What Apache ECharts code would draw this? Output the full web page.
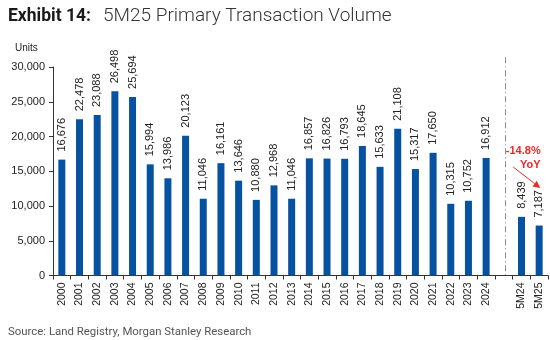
<!DOCTYPE html>
<html><head><meta charset="utf-8">
<script src="https://cdn.jsdelivr.net/npm/echarts@6/dist/echarts.min.js"></script>
<style>html,body{margin:0;padding:0;background:#fff}#c{width:550px;height:340px}</style>
</head><body><div id="c"></div>
<script>
const categories = ['2000','2001','2002','2003','2004','2005','2006','2007','2008','2009','2010','2011','2012','2013','2014','2015','2016','2017','2018','2019','2020','2021','2022','2023','2024','','5M24','5M25'];
const volumes = [16676,22478,23088,26498,25694,15994,13986,20123,11046,16161,13646,10880,12968,11046,16857,16826,16793,18645,15633,21108,15317,17650,10315,10752,16912,null,8439,7187];
const yTicks = [0,5000,10000,15000,20000,25000,30000];
const titleBold = 'Exhibit 14:';
const titleText = '5M25 Primary Transaction Volume';
const unitText = 'Units';
const sourceText = 'Source: Land Registry, Morgan Stanley Research';
const yoyText = ['-14.8%', 'YoY'];

const NARROW = '"Liberation Sans Narrow","Arial Narrow",sans-serif';
const fmt = v => v == null ? '' : Number(v).toLocaleString('en-US');

const chart = echarts.init(document.getElementById('c'), null, {renderer:'canvas'});
const option = {
  animation: false,
  backgroundColor: '#fff',
  title: [{
    left: 3, top: 2,
    text: '{b|' + titleBold + '}{n|' + titleText + '}',
    textStyle: { rich: {
      b: { fontFamily: 'Roboto', fontWeight: 'bold', fontSize: 17.5, color: '#1a1a1a', width: 95 },
      n: { fontFamily: 'Roboto', fontWeight: 300, fontSize: 19, color: '#333' }
    }}
  },{
    left: 10, top: 38, text: unitText,
    textStyle: { fontFamily: NARROW, fontSize: 10, fontWeight: 'normal', color: '#222' }
  },{
    left: 3, top: 322, text: sourceText,
    textStyle: { fontFamily: 'Roboto', fontSize: 11.4, fontWeight: 'normal', color: '#555' }
  }],
  grid: { left: 53, right: 2, top: 67, bottom: 64.5 },
  xAxis: {
    type: 'category', data: categories,
    axisLine: { lineStyle: { color: '#333', width: 1 } },
    axisTick: { show: true, length: 4, interval: 0, lineStyle: { color: '#333' } },
    axisLabel: { interval: 0, rotate: 90, margin: 7, fontFamily: NARROW, fontSize: 10.5, color: '#222' }
  },
  yAxis: {
    type: 'value', min: yTicks[0], max: yTicks[yTicks.length-1], interval: yTicks[1]-yTicks[0],
    splitLine: { show: false },
    axisLine: { show: true, lineStyle: { color: '#333', width: 1 } },
    axisTick: { show: true, length: 4, lineStyle: { color: '#333' } },
    axisLabel: { margin: 8, fontFamily: NARROW, fontSize: 11, color: '#222', formatter: fmt }
  },
  series: [{
    type: 'bar', data: volumes, barWidth: 7,
    itemStyle: { color: '#0652a0' },
    label: { show: true, position: 'top', rotate: 90, align: 'left', verticalAlign: 'middle', distance: 8,
      fontFamily: NARROW, fontSize: 11, color: '#222', formatter: p => fmt(p.value) }
  }]
};
chart.setOption(option);

// Divider and annotation placed through the axis scales
const xEnd = chart.convertToPixel({xAxisIndex:0}, '5M25');
const xMid = chart.convertToPixel({xAxisIndex:0}, 25);
const yTop = chart.convertToPixel({yAxisIndex:0}, 31400);
const yZero = chart.convertToPixel({yAxisIndex:0}, 0);
const yText = chart.convertToPixel({yAxisIndex:0}, 18900);
const yA0 = chart.convertToPixel({yAxisIndex:0}, 15600);
const yA1 = chart.convertToPixel({yAxisIndex:0}, 12600);
const xd = Math.round(xMid + 1) + 0.5;
const x0 = xMid + 9.5, x1 = xEnd + 1;
const ang = Math.atan2(yA1 - yA0, x1 - x0);
const ah = 7, aw = 3.5;
const bx = x1 - ah*Math.cos(ang), by = yA1 - ah*Math.sin(ang);
chart.setOption({
  graphic: [
    { type: 'line', shape: { x1: xd, y1: yTop, x2: xd, y2: yZero }, style: { stroke: '#8a8a8a', lineWidth: 1, lineDash: [6,3,1,3] } },
    { type: 'text', x: xEnd + 1.5, y: yText, style: { text: yoyText[0] + '\n' + yoyText[1], align: 'right', verticalAlign: 'top',
      fill: '#f02828', font: 'bold 11px ' + NARROW, lineHeight: 14 } },
    { type: 'line', shape: { x1: x0, y1: yA0, x2: bx, y2: by }, style: { stroke: '#f02828', lineWidth: 1 } },
    { type: 'polygon', shape: { points: [[x1, yA1], [bx + aw*Math.sin(ang), by - aw*Math.cos(ang)], [bx - aw*Math.sin(ang), by + aw*Math.cos(ang)]] },
      style: { fill: '#f02828' } }
  ]
});
</script></body></html>
